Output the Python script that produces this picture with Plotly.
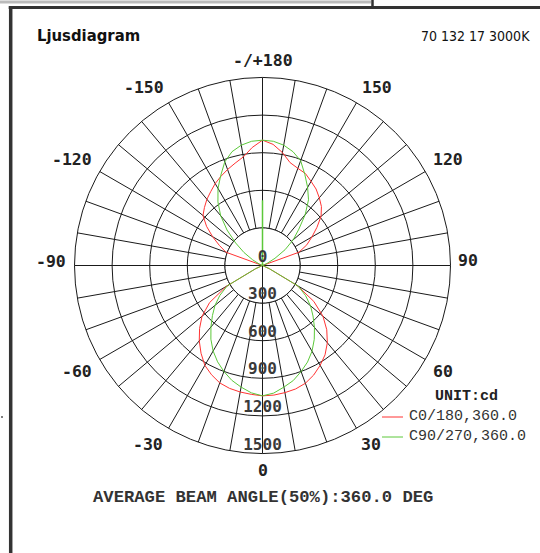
import plotly.graph_objects as go

# ---------------- data ----------------
gamma = list(range(0, 185, 5))  # 0 .. 180 deg

# C0/180 plane (red): C0 = right half, C180 = left half
c0 = [1040, 1038, 1030, 1020, 1000, 965, 920, 870, 805, 725, 630, 500, 320, 60,
      0, 0, 0, 0, 0, 0, 0, 0,
      310, 390, 455, 530, 610, 665, 705, 745, 775, 810, 825, 850, 915, 970, 1000]
c180 = [1040, 1032, 1025, 1015, 997, 962, 920, 855, 785, 710, 630, 515, 335, 60,
        0, 0, 0, 0, 0, 0, 0, 0,
        310, 380, 460, 545, 620, 655, 690, 720, 755, 785, 815, 845, 880, 945, 1000]
# C90/270 plane (green)
c90 = [1040, 1022, 985, 950, 900, 850, 790, 720, 645, 570, 500, 420, 330, 60,
       0, 0, 0, 0, 0, 0, 0, 0, 0,
       40, 115, 220, 320, 410, 530, 640, 720, 800, 890, 940, 975, 995, 1000]
c270 = [1040, 1020, 985, 948, 900, 848, 788, 718, 640, 565, 495, 415, 325, 60,
        0, 0, 0, 0, 0, 0, 0, 0, 0,
        30, 90, 180, 280, 400, 520, 620, 710, 790, 880, 940, 975, 995, 1000]
spike_r = [0, 520]
spike_theta = [180, 180]

ring_values = [0, 300, 600, 900, 1200, 1500]
angle_ticks = list(range(0, 360, 10))
angle_labels = ["0", "30", "60", "90", "120", "150", "-/+180",
                "-150", "-120", "-90", "-60", "-30"]
series_names = ["C0/180,360.0", "C90/270,360.0"]
unit_label = "UNIT:cd"
title_left = "Ljusdiagram"
title_right = "70 132 17 3000K"
footer = "AVERAGE BEAM ANGLE(50%):360.0 DEG"

# ---------------- figure ----------------
W, H = 540, 553
def px(x):
    return x / W
def py(y):
    return 1 - y / H

RED = "#ff3333"
GREEN = "#5cc83a"
GRID = "#1a1a1a"

fig = go.Figure()

inner = ring_values[1]
circle_theta = list(range(0, 365, 5))
fig.add_trace(go.Scatterpolar(r=[inner] * len(circle_theta), theta=circle_theta,
                              mode="lines", fill="toself", fillcolor="white",
                              line=dict(color=GRID, width=1), showlegend=False,
                              hoverinfo="skip"))
fig.add_trace(go.Scatterpolar(r=[inner, 0, inner], theta=[0, 0, 180], mode="lines",
                              line=dict(color=GRID, width=1), showlegend=False, hoverinfo="skip"))
fig.add_trace(go.Scatterpolar(r=[inner, 0, inner], theta=[90, 90, 270], mode="lines",
                              line=dict(color=GRID, width=1), showlegend=False, hoverinfo="skip"))

red_theta = gamma + [360 - g for g in reversed(gamma)]
red_r = c0 + list(reversed(c180))
green_theta = gamma + [360 - g for g in reversed(gamma)]
green_r = c90 + list(reversed(c270))

fig.add_trace(go.Scatterpolar(r=red_r, theta=red_theta, mode="lines", name=series_names[0],
                              line=dict(color=RED, width=1), showlegend=False))
fig.add_trace(go.Scatterpolar(r=green_r, theta=green_theta, mode="lines", name=series_names[1],
                              line=dict(color=GREEN, width=1), showlegend=False))
fig.add_trace(go.Scatterpolar(r=spike_r, theta=spike_theta, mode="lines",
                              line=dict(color=GREEN, width=1.5), showlegend=False))

fig.add_trace(go.Scatterpolar(r=ring_values, theta=[0] * len(ring_values), mode="text",
                              text=[str(v) for v in ring_values], textposition="top center",
                              textfont=dict(family="DejaVu Sans Mono", size=16, color="#3a3a3a",
                                            weight="bold"),
                              cliponaxis=False, showlegend=False, hoverinfo="skip"))

fig.update_layout(
    width=W, height=H, autosize=False,
    margin=dict(l=0, r=0, t=0, b=0),
    paper_bgcolor="white", plot_bgcolor="white",
    showlegend=False,
    polar=dict(
        domain=dict(x=[px(74.5), px(450.5)], y=[py(453.5), py(77.5)]),
        bgcolor="white",
        radialaxis=dict(range=[0, 1500], tickvals=ring_values[1:], showticklabels=False,
                        ticks="", showline=False, gridcolor=GRID, gridwidth=1),
        angularaxis=dict(rotation=-90, direction="counterclockwise",
                         tickvals=angle_ticks, showticklabels=False,
                         ticks="", showline=True, linecolor=GRID, linewidth=1,
                         gridcolor=GRID, gridwidth=1),
    ),
)

# angular labels placed around the dial as in the reference
label_pos = [  # (x, y, xanchor) in page pixels
    (262.5, 470, "center"), (360, 444, "left"), (431.7, 371.7, "left"),
    (457, 260, "left"), (431.7, 159.3, "left"), (360.7, 87, "left"),
    (262.7, 60.7, "center"), (165, 87, "right"), (93.3, 159.3, "right"),
    (66.7, 261, "right"), (93.3, 371.7, "right"), (163.6, 444, "right"),
]
for txt, (lx, ly, anc) in zip(angle_labels, label_pos):
    fig.add_annotation(text=txt, xref="paper", yref="paper", x=px(lx), y=py(ly),
                       xanchor=anc, yanchor="middle", showarrow=False, borderpad=0,
                       font=dict(family="DejaVu Sans Mono", size=16.5, color="#222",
                                 weight="bold"))

# legend (drawn by hand to match the reference layout)
fig.add_annotation(text=unit_label, xref="paper", yref="paper", x=px(434), y=py(396.7),
                   xanchor="left", yanchor="middle", showarrow=False, borderpad=0,
                   font=dict(family="Liberation Mono", size=15, color="#222", weight="bold"))
for name, color, yy in [(series_names[0], RED, 416.5), (series_names[1], GREEN, 436.5)]:
    fig.add_shape(type="line", xref="paper", yref="paper", x0=px(382), x1=px(403),
                  y0=py(yy + 0.5), y1=py(yy + 0.5), line=dict(color=color, width=1))
    fig.add_annotation(text=name, xref="paper", yref="paper", x=px(407.5), y=py(yy),
                       xanchor="left", yanchor="middle", showarrow=False, borderpad=0,
                       font=dict(family="Liberation Mono", size=15, color="#333"))

# page frame
fig.add_shape(type="line", xref="paper", yref="paper", x0=px(10.7), x1=px(10.7),
              y0=py(7), y1=py(553), line=dict(color="#333", width=3.5))
fig.add_shape(type="line", xref="paper", yref="paper", x0=px(8.7), x1=px(540),
              y0=py(7.6), y1=py(7.6), line=dict(color="#333", width=3))
fig.add_shape(type="line", xref="paper", yref="paper", x0=px(0), x1=px(371),
              y0=py(2), y1=py(2), line=dict(color="#bbb", width=3))
fig.add_shape(type="line", xref="paper", yref="paper", x0=px(372.5), x1=px(372.5),
              y0=py(0), y1=py(8), line=dict(color="#333", width=2.5))
fig.add_shape(type="circle", xref="paper", yref="paper", x0=px(1), x1=px(3),
              y0=py(418), y1=py(416), line=dict(color="#555", width=0), fillcolor="#555")

fig.add_annotation(text=title_left, xref="paper", yref="paper", x=px(35.6), y=py(35.8),
                   xanchor="left", yanchor="middle", showarrow=False, borderpad=0,
                   font=dict(family="DejaVu Sans Condensed", size=16.5, color="#111",
                             weight="bold"))
fig.add_annotation(text=title_right, xref="paper", yref="paper", x=px(531), y=py(36),
                   xanchor="right", yanchor="middle", showarrow=False, borderpad=0,
                   font=dict(family="DejaVu Sans Condensed", size=14, color="#111"))
fig.add_annotation(text=footer, xref="paper", yref="paper", x=px(262.7), y=py(498),
                   xanchor="center", yanchor="middle", showarrow=False, borderpad=0,
                   font=dict(family="Liberation Mono", size=17.2, color="#333", weight="bold"))

fig.write_html("out.html", config={"displayModeBar": False},
               post_script="document.body.style.margin='0';")
